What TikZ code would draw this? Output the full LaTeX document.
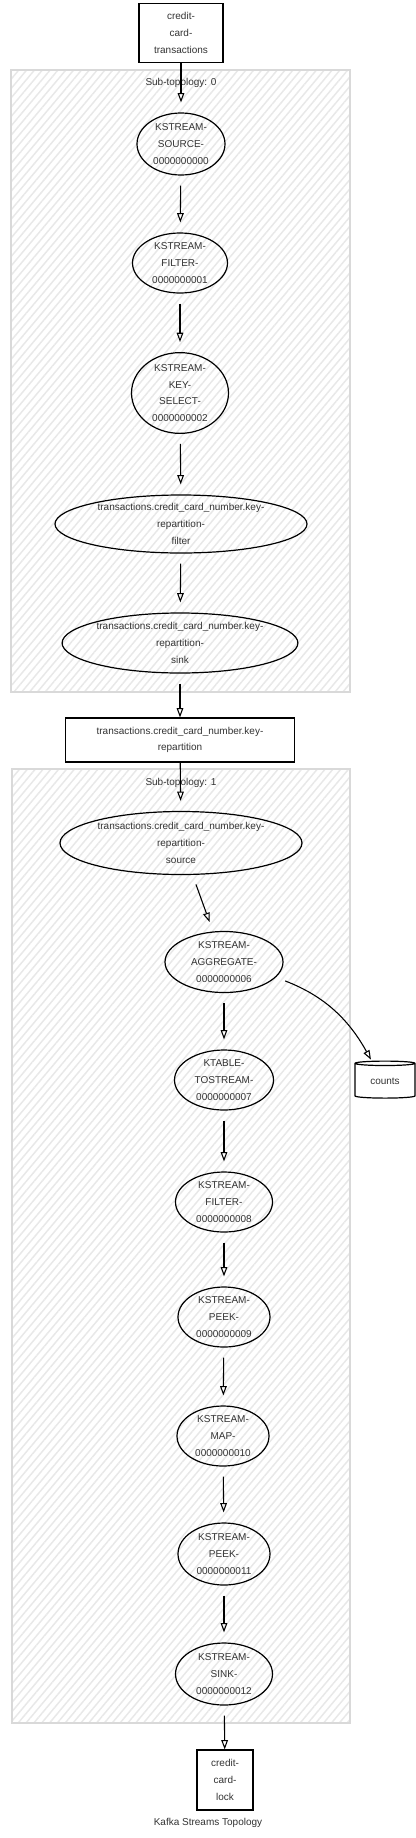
\documentclass[tikz,border=0pt]{standalone}
\usepackage{fontspec}
\setmainfont{Liberation Sans}
\usetikzlibrary{arrows.meta,shapes.geometric,patterns.meta}

\begin{document}
\begin{tikzpicture}[x=0.75pt,y=0.75pt,yscale=-1,xscale=1,
  every node/.style={font=\fontsize{7.5}{12.5}\selectfont, text=black!80},
  op/.style={draw=black, ellipse, line width=0.9pt, inner sep=0pt, align=center},
  topic/.style={draw=black, rectangle, fill=white, line width=0.9pt, inner sep=0pt, align=center},
  store/.style={draw=black, cylinder, shape border rotate=90, aspect=0.15, fill=white, line width=0.9pt, inner sep=0pt},
  cluster/.style={draw=black!15, line width=1.2pt, pattern={Lines[angle=50,distance=4.5pt,line width=1.1pt]}, pattern color=black!9},
  flow/.style={draw=black, line width=0.8pt, -{Triangle[open,length=7pt,width=5pt]}},
  gapin/.style={shorten >=7.5pt},
  gapout/.style={shorten <=7.5pt}
]
%Page and margins
\fill[white] (0,0) rectangle (416,1838);
\useasboundingbox (0,0) rectangle (416,1838);

%Shape: Cluster [id:sub0]
\draw[cluster] (11,70) rectangle (350,692);
\node (sub0) at (181,83) {Sub-topology: 0};
%Shape: Cluster [id:sub1]
\draw[cluster] (12,769) rectangle (350,1723);
\node (sub1) at (181,783) {Sub-topology: 1};

%Topics and stores
\node[topic, minimum width=63pt, minimum height=44.25pt] (cct) at (181,33) {credit-\\card-\\transactions};
\node[topic, minimum width=171.75pt, minimum height=33pt] (reptopic) at (180,740) {transactions.credit\_card\_number.key-\\repartition};
\node[topic, minimum width=42pt, minimum height=45pt] (lock) at (225,1780) {credit-\\card-\\lock};
\node[store, minimum width=45pt, minimum height=27.75pt] (counts) at (385,1081) {counts};

%Sub-topology 0
\node[op, minimum width=66pt, minimum height=46.5pt] (source) at (181,144) {KSTREAM-\\SOURCE-\\0000000000};
\node[op, minimum width=71.25pt, minimum height=45pt] (filter1) at (180,263) {KSTREAM-\\FILTER-\\0000000001};
\node[op, minimum width=72.75pt, minimum height=59.25pt] (keysel) at (180,393) {KSTREAM-\\KEY-\\SELECT-\\0000000002};
\node[op, minimum width=189pt, minimum height=43.5pt] (repfilter) at (181,524) {transactions.credit\_card\_number.key-\\repartition-\\filter};
\node[op, minimum width=171.75pt, minimum height=45pt] (repsink) at (180,643) {transactions.credit\_card\_number.key-\\repartition-\\sink};

%Sub-topology 1
\node[op, minimum width=181.5pt, minimum height=47.25pt] (repsource) at (181,843) {transactions.credit\_card\_number.key-\\repartition-\\source};
\node[op, minimum width=88.5pt, minimum height=45.75pt] (agg) at (224,962) {KSTREAM-\\AGGREGATE-\\0000000006};
\node[op, minimum width=74.25pt, minimum height=45pt] (tostream) at (224,1080) {KTABLE-\\TOSTREAM-\\0000000007};
\node[op, minimum width=72.75pt, minimum height=45pt] (filter8) at (224,1202) {KSTREAM-\\FILTER-\\0000000008};
\node[op, minimum width=69pt, minimum height=45pt] (peek9) at (224,1317) {KSTREAM-\\PEEK-\\0000000009};
\node[op, minimum width=69pt, minimum height=45pt] (map10) at (223,1436) {KSTREAM-\\MAP-\\0000000010};
\node[op, minimum width=69pt, minimum height=46.5pt] (peek11) at (224,1554) {KSTREAM-\\PEEK-\\0000000011};
\node[op, minimum width=72.75pt, minimum height=46.5pt] (sink12) at (224,1674) {KSTREAM-\\SINK-\\0000000012};

%Connectors
\draw[flow, gapin] (cct) -- (source);
\draw[flow, gapin, gapout] (source) -- (filter1);
\draw[flow, gapin, gapout] (filter1) -- (keysel);
\draw[flow, gapin, gapout] (keysel) -- (repfilter);
\draw[flow, gapin, gapout] (repfilter) -- (repsink);
\draw[flow, gapout] (repsink) -- (reptopic);
\draw[flow, gapin] (reptopic) -- (repsource);
\draw[flow, gapin, gapout] (repsource) -- (agg);
\draw[flow, gapin, gapout] (agg) -- (tostream);
\draw[flow, shorten >=1pt, gapout] (agg) to[bend right=20] (counts);
\draw[flow, gapin, gapout] (tostream) -- (filter8);
\draw[flow, gapin, gapout] (filter8) -- (peek9);
\draw[flow, gapin, gapout] (peek9) -- (map10);
\draw[flow, gapin, gapout] (map10) -- (peek11);
\draw[flow, gapin, gapout] (peek11) -- (sink12);
\draw[flow, gapout] (sink12) -- (lock);

%Caption
\node (caption) at (208,1823) {Kafka Streams Topology};
\end{tikzpicture}
\end{document}
